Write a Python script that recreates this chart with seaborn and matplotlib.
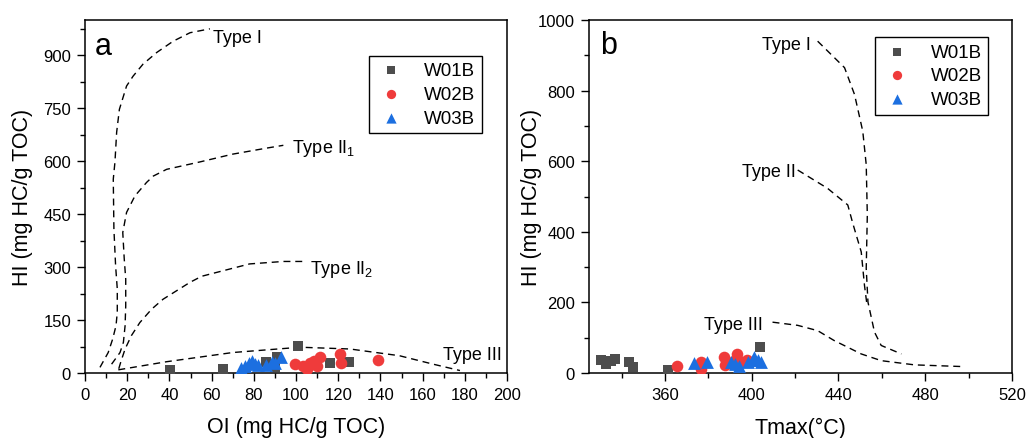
import matplotlib
matplotlib.use("Agg")
import numpy as np
import pandas as pd
import seaborn as sns
import matplotlib.pyplot as plt
from matplotlib.ticker import MultipleLocator

# ---------------- data ----------------
series = ["W01B", "W02B", "W03B"]
colors = {"W01B": "#4d4d4d", "W02B": "#ef3b3b", "W03B": "#1c6fe0"}
markers = {"W01B": "s", "W02B": "o", "W03B": "^"}
msize = {"W01B": 60, "W02B": 70, "W03B": 85}

# panel a: OI vs HI
w01_oi = [40.3, 65.4, 86.0, 90.8, 90.0, 100.8, 116.0, 125.3]
w01_hi = [9, 11, 32, 44, 17, 76, 28, 30]
w02_oi = [99.5, 103.5, 105.2, 106.6, 108.5, 109.8, 111.2, 120.9, 121.2, 139.0]
w02_hi = [25, 20, 12, 29, 35, 21, 44, 55, 27, 38]
w03_oi = [74.0, 76.0, 77.5, 79.0, 80.5, 82.0, 86.0, 88.5, 90.0, 93.0]
w03_hi = [14, 20, 27, 33, 26, 22, 24, 30, 27, 45]

# panel b: Tmax vs HI
w01_tmax = [330.5, 333.0, 335.0, 337.2, 343.4, 345.2, 361.4, 403.8]
w01_hi_b = [37, 26, 33, 39, 30, 18, 9, 75]
w02_tmax = [365.4, 376.5, 376.8, 387.3, 387.5, 390.0, 392.0, 393.4, 395.0, 398.0]
w02_hi_b = [20, 32, 11, 45, 24, 28, 33, 55, 30, 38]
w03_tmax = [373.5, 379.5, 390.4, 392.5, 394.2, 398.5, 400.5, 401.2, 402.7, 404.5]
w03_hi_b = [28, 30, 32, 26, 20, 32, 36, 45, 38, 30]

# kerogen type curves, panel a
typeI_oi = [7.1, 11.0, 13.1, 14.7, 15.3, 15.3, 14.5, 13.7, 13.4, 14.2, 15.0, 16.3, 19.7, 22.8, 27.5, 34.0, 41.8, 49.8, 59.2]
typeI_hi = [16, 58, 96, 134, 172, 238, 304, 408, 549, 598, 682, 747, 813, 841, 875, 908, 940, 964, 975]
typeII1_oi = [12.6, 16.6, 18.2, 19.0, 19.3, 19.3, 18.6, 17.9, 19.7, 23.7, 29.2, 32.4, 38.7, 54.5, 70.0, 86.0, 94.0]
typeII1_hi = [25, 58, 87, 134, 190, 266, 323, 398, 455, 502, 540, 558, 577, 598, 620, 637, 645]
typeII2_oi = [16.0, 17.0, 19.0, 22.0, 26.0, 31.6, 37.0, 43.4, 49.8, 55.3, 62.4, 78.0, 94.0, 103.5]
typeII2_hi = [12, 32, 68, 106, 143, 181, 209, 233, 257, 274, 285, 309, 316, 316]
typeIII_oi = [15.8, 38.7, 70.0, 102.0, 125.6, 149.0, 165.0, 177.7]
typeIII_hi = [9, 32, 58, 73, 68, 49, 25, 7]

# kerogen type curves, panel b
typeI_tmax = [430.4, 442.8, 447.4, 451.2, 452.8, 453.3, 452.8, 453.6, 456.6, 459.7, 469.0]
typeI_hi_b = [940, 865, 789, 685, 590, 447, 296, 201, 116, 78, 54]
typeII_tmax = [421.2, 435.0, 444.3, 446.6, 450.5, 452.0, 453.0]
typeII_hi_b = [575, 523, 476, 424, 343, 248, 200]
typeIII_tmax = [409.6, 421.2, 430.4, 438.0, 450.5, 459.7, 475.1, 498.3]
typeIII_hi_b = [144, 135, 120, 92, 54, 35, 23, 18]

# ---------------- style ----------------
sns.set_theme(style="ticks")
plt.rcParams["font.family"] = ["Liberation Sans", "DejaVu Sans"]
plt.rcParams["mathtext.default"] = "regular"
plt.rcParams["axes.linewidth"] = 1.1
for key in ["text.color", "axes.labelcolor", "xtick.color", "ytick.color", "axes.edgecolor"]:
    plt.rcParams[key] = "black"

fig = plt.figure(figsize=(10.29, 4.39), dpi=100)
axa = fig.add_axes([85 / 1029, 65 / 439, 422 / 1029, 353 / 439])
axb = fig.add_axes([589 / 1029, 65 / 439, 423 / 1029, 353 / 439])

dash = (0, (5, 3.5))


def curve(ax, x, y):
    sns.lineplot(x=x, y=y, ax=ax, sort=False, estimator=None, color="black",
                 linewidth=1.0, linestyle=dash)


def points(ax, xs, ys):
    for name, x, y in zip(series, xs, ys):
        sns.scatterplot(x=x, y=y, ax=ax, marker=markers[name], color=colors[name],
                        s=msize[name], linewidth=0, label=name, legend=False, zorder=3)


# panel a
for x, y in [(typeI_oi, typeI_hi), (typeII1_oi, typeII1_hi), (typeII2_oi, typeII2_hi), (typeIII_oi, typeIII_hi)]:
    curve(axa, x, y)
points(axa, [w01_oi, w02_oi, w03_oi], [w01_hi, w02_hi, w03_hi])

tfs = 13
axa.text(60.7, 938, "Type I", fontsize=tfs, ha="left", va="baseline")
axa.text(98, 625, "Type II$_1$", fontsize=tfs, ha="left", va="baseline")
axa.text(106.6, 283, "Type II$_2$", fontsize=tfs, ha="left", va="baseline")
axa.text(169.8, 40, "Type III", fontsize=tfs, ha="left", va="baseline")

axa.set_xlim(0, 200)
axa.set_ylim(0, 1000)
axa.xaxis.set_major_locator(MultipleLocator(20))
axa.xaxis.set_minor_locator(MultipleLocator(10))
axa.set_yticks(np.arange(0, 901, 150))
axa.yaxis.set_minor_locator(MultipleLocator(75))
axa.set_xlabel("OI (mg HC/g TOC)", fontsize=15.5)
axa.set_ylabel("HI (mg HC/g TOC)", fontsize=15.5)
axa.xaxis.set_label_coords(0.5, -0.123)
axa.yaxis.set_label_coords(-0.123, 0.5)
axa.text(0.022, 0.905, "a", transform=axa.transAxes, fontsize=22, ha="left", va="baseline")

# panel b
for x, y in [(typeI_tmax, typeI_hi_b), (typeII_tmax, typeII_hi_b), (typeIII_tmax, typeIII_hi_b)]:
    curve(axb, x, y)
points(axb, [w01_tmax, w02_tmax, w03_tmax], [w01_hi_b, w02_hi_b, w03_hi_b])

axb.text(427.4, 917, "Type I", fontsize=tfs, ha="right", va="baseline")
axb.text(420.4, 557, "Type II", fontsize=tfs, ha="right", va="baseline")
axb.text(405.0, 125, "Type III", fontsize=tfs, ha="right", va="baseline")

axb.set_xlim(325, 520)
axb.set_ylim(0, 1000)
axb.set_xticks(np.arange(360, 521, 40))
axb.xaxis.set_minor_locator(MultipleLocator(20))
axb.yaxis.set_major_locator(MultipleLocator(200))
axb.yaxis.set_minor_locator(MultipleLocator(100))
axb.set_xlabel("Tmax(°C)", fontsize=15.5)
axb.set_ylabel("HI (mg HC/g TOC)", fontsize=15.5)
axb.xaxis.set_label_coords(0.5, -0.123)
axb.yaxis.set_label_coords(-0.111, 0.5)
axb.text(0.026, 0.907, "b", transform=axb.transAxes, fontsize=22, ha="left", va="baseline")

legend_pos = {axa: (0.941, 0.899), axb: (0.944, 0.952)}
for ax in (axa, axb):
    for sp in ax.spines.values():
        sp.set_visible(True)
        sp.set_color("black")
        sp.set_linewidth(1.1)
    ax.tick_params(axis="both", which="major", direction="out", length=6, width=1.0,
                   labelsize=12, pad=4, color="black", labelcolor="black", top=False, right=False)
    ax.tick_params(axis="both", which="minor", direction="out", length=3.5, width=1.0,
                   color="black", top=False, right=False)
    ax.grid(False)
    h, l = ax.get_legend_handles_labels()
    leg = ax.legend(h, l, loc="upper right", bbox_to_anchor=legend_pos[ax], borderaxespad=0,
                    fontsize=13.5, frameon=True, fancybox=False, framealpha=1,
                    edgecolor="black", markerscale=0.8, labelspacing=0.35,
                    handletextpad=1.0, borderpad=0.35, handlelength=1.6)
    leg.get_frame().set_linewidth(1.0)
    for t in leg.get_texts():
        t.set_color("black")

fig.savefig("out.png", dpi=100)
